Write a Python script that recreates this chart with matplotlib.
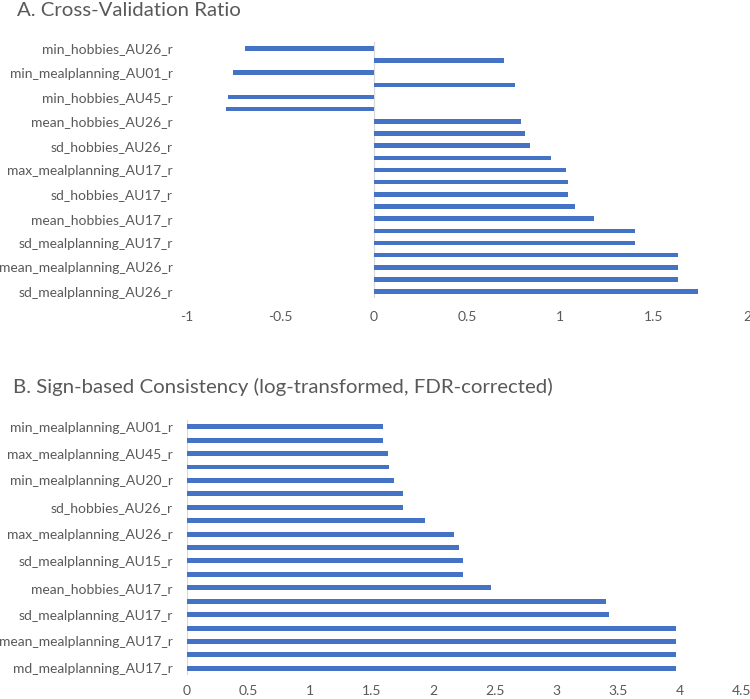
import matplotlib.pyplot as plt
import numpy as np

# panel A: cross-validation ratio (top to bottom); only every other label is shown in the original
cv_labels = ["min_hobbies_AU26_r", "", "min_mealplanning_AU01_r", "", "min_hobbies_AU45_r", "",
             "mean_hobbies_AU26_r", "", "sd_hobbies_AU26_r", "", "max_mealplanning_AU17_r", "",
             "sd_hobbies_AU17_r", "", "mean_hobbies_AU17_r", "", "sd_mealplanning_AU17_r", "",
             "mean_mealplanning_AU26_r", "", "sd_mealplanning_AU26_r"]
cv_values = [-0.69, 0.70, -0.75, 0.76, -0.78, -0.79, 0.79, 0.81, 0.84, 0.95, 1.03,
             1.04, 1.04, 1.08, 1.18, 1.40, 1.40, 1.63, 1.63, 1.63, 1.74]
cv_ticks = [-1, -0.5, 0, 0.5, 1, 1.5, 2]

# panel B: sign-based consistency (top to bottom)
sb_labels = ["min_mealplanning_AU01_r", "", "max_mealplanning_AU45_r", "", "min_mealplanning_AU20_r", "",
             "sd_hobbies_AU26_r", "", "max_mealplanning_AU26_r", "", "sd_mealplanning_AU15_r", "",
             "mean_hobbies_AU17_r", "", "sd_mealplanning_AU17_r", "", "mean_mealplanning_AU17_r", "",
             "md_mealplanning_AU17_r"]
sb_values = [1.59, 1.59, 1.63, 1.64, 1.68, 1.75, 1.75, 1.93, 2.17, 2.21, 2.24, 2.24,
             2.47, 3.40, 3.42, 3.97, 3.97, 3.97, 3.97]
sb_ticks = [0, 0.5, 1, 1.5, 2, 2.5, 3, 3.5, 4, 4.5]

blue = "#4472C4"
grey = "#595959"
plt.rcParams['font.family'] = ['Lato', 'DejaVu Sans']

fig = plt.figure(figsize=(7.5, 6.99), dpi=100)


def tick_text(t):
    return "0" if t == 0 else ("%g" % t)


def panel(rect, labels, values, ticks, xpad):
    ax = fig.add_axes(rect)
    y = np.arange(len(values))
    ax.barh(y, values, height=0.37, color=blue, zorder=2)
    ax.set_ylim(len(values) - 0.5, -0.5)
    ax.set_xlim(ticks[0], ticks[-1])
    ax.axvline(0, color="#D9D9D9", lw=0.9, zorder=1)
    ax.set_yticks(y)
    ax.set_yticklabels(labels, fontsize=10, color=grey)
    ax.set_xticks(ticks)
    ax.set_xticklabels([tick_text(t) for t in ticks], fontsize=10, color=grey)
    ax.tick_params(axis="both", length=0)
    ax.tick_params(axis="y", pad=10)
    ax.tick_params(axis="x", pad=xpad)
    for s in ax.spines.values():
        s.set_visible(False)
    return ax


panel([0.249, 0.574, 0.747, 0.3656], cv_labels, cv_values, cv_ticks, 9.5)
panel([0.249, 0.0343, 0.740, 0.3648], sb_labels, sb_values, sb_ticks, 7)

fig.text(0.0227, 1 - 10 / 699, "A. Cross-Validation Ratio", fontsize=14.7, color=grey, va="center")
fig.text(0.0167, 1 - 387 / 699, "B. Sign-based Consistency (log-transformed, FDR-corrected)",
         fontsize=14.7, color=grey, va="center")

fig.savefig("out.png", dpi=100)
